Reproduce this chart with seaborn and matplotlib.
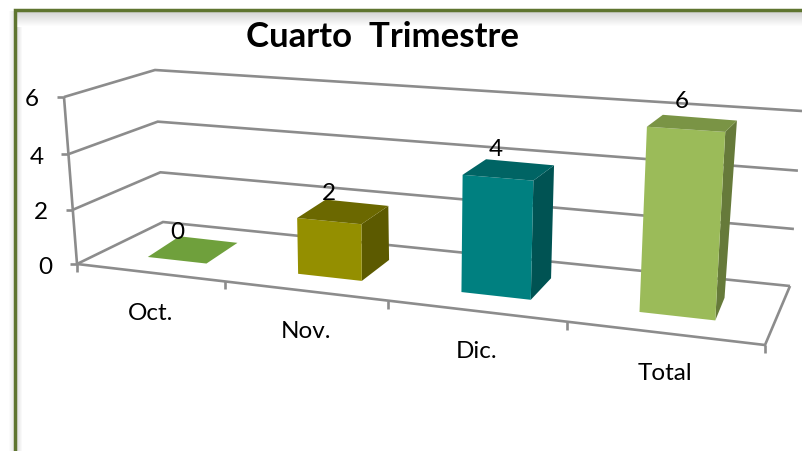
import numpy as np
import matplotlib
matplotlib.use("Agg")
import matplotlib.pyplot as plt
import matplotlib.transforms as mtransforms
from matplotlib.patches import Polygon
import seaborn as sns

# ---- data ----
title = "Cuarto  Trimestre"
categories = ["Oct.", "Nov.", "Dic.", "Total"]
values = [0, 2, 4, 6]
y_ticks = [0, 2, 4, 6]
front_colors = ["#6FA03C", "#948F00", "#008080", "#9BBB59"]
top_colors = ["#6FA03C", "#6B6800", "#006464", "#7A9445"]
side_colors = ["#5A8030", "#5C5A00", "#005353", "#667A3A"]

# ---- perspective calibration: plane corners (category, value) -> pixel ----
U0, U1, V0, V1 = -0.5, 3.5, 0.0, 6.0


def homography(bl, br, tl, tr):
    src = [(U0, V0), (U1, V0), (U0, V1), (U1, V1)]
    dst = [bl, br, tl, tr]
    A, b = [], []
    for (u, v), (x, y) in zip(src, dst):
        A.append([u, v, 1, 0, 0, 0, -u * x, -v * x]); b.append(x)
        A.append([0, 0, 0, u, v, 1, -u * y, -v * y]); b.append(y)
    h = np.linalg.solve(np.array(A, float), np.array(b, float))
    return np.append(h, 1).reshape(3, 3)


class Projection(mtransforms.Transform):
    input_dims = 2
    output_dims = 2

    def __init__(self, H):
        super().__init__()
        self.H = H

    def transform_non_affine(self, pts):
        pts = np.atleast_2d(pts)
        q = np.c_[pts, np.ones(len(pts))] @ self.H.T
        return q[:, :2] / q[:, 2:]


wall = Projection(homography((163, 223), (790, 287), (155, 71), (802, 112)))
axis_plane = Projection(homography((77, 265), (765, 346), (64, 98), (783, 146)))
bar_front = Projection(homography((105, 253.2), (774, 328), (97, 91), (786, 137)))
bar_back = Projection(homography((137, 232.5), (779, 305), (125, 74), (794, 126)))


def P(proj, u, v):
    return proj.transform_non_affine([[u, v]])[0]


# ---- figure ----
sns.set_style("white")
plt.rcParams["font.family"] = ["Lato", "DejaVu Sans"]
fig = plt.figure(figsize=(8.02, 4.52), dpi=100, facecolor="white")
ax = fig.add_axes([0, 0, 1, 1])

sns.barplot(
    x=categories, y=values, hue=categories, palette=front_colors, order=categories,
    hue_order=categories, width=0.4, saturation=1, errorbar=None, legend=False,
    linewidth=0, zorder=4, transform=Projection(bar_front.H) + ax.transData, ax=ax,
)
ax.set_xlim(0, 802)
ax.set_ylim(452, 0)
ax.set_axis_off()

# frame shadow
top_grad = np.linspace(0.82, 1, 16)[:, None]
ax.imshow(top_grad, extent=(17, 802, 28, 12), cmap="gray", vmin=0, vmax=1, aspect="auto", zorder=0)
left_grad = np.linspace(0.88, 1, 6)[None, :]
ax.imshow(left_grad, extent=(17, 23, 452, 28), cmap="gray", vmin=0, vmax=1, aspect="auto", zorder=0)
out_grad = np.linspace(1, 0.92, 6)[None, :]
ax.imshow(out_grad, extent=(8, 14, 452, 12), cmap="gray", vmin=0, vmax=1, aspect="auto", zorder=0)
ax.set_xlim(0, 802)
ax.set_ylim(452, 0)
ax.plot([15.2, 15.2, 802], [452, 11.2, 11.2], color="#5F7530", lw=2.5, solid_joinstyle="miter", zorder=1)

# walls, floor, ticks
GRID = "#8C8C8C"
line = dict(color=GRID, lw=1.9, zorder=2, solid_capstyle="butt", solid_joinstyle="miter")
for t in y_ticks:
    a, b, c = P(axis_plane, U0, t), P(wall, U0, t), P(wall, U1, t)
    ax.plot([a[0], b[0], c[0]], [a[1], b[1], c[1]], **line)
    ax.plot([a[0] - 7, a[0]], [a[1], a[1]], **line)
    ax.text(a[0] - 32, a[1] + 2, str(t), ha="center", va="center", fontsize=17.5, color="black", zorder=6)

a, b = P(axis_plane, U0, V0), P(axis_plane, U0, V1)
ax.plot([a[0], b[0]], [a[1], b[1]], **line)
a, b, c = P(axis_plane, U0, 0), P(axis_plane, U1, 0), P(wall, U1, 0)
ax.plot([a[0], b[0], c[0]], [a[1], b[1], c[1]], **line)
for edge in np.arange(U0, U1 + 0.5):
    e = P(axis_plane, edge, 0)
    ax.plot([e[0], e[0]], [e[1], e[1] + 8], **line)

# 3-D faces of the bars, built from the seaborn bars themselves
bars = sorted(ax.patches, key=lambda r: r.get_x())
for i, r in enumerate(bars):
    x0, x1, h = r.get_x(), r.get_x() + r.get_width(), r.get_height()
    top = [P(bar_front, x0, h), P(bar_front, x1, h), P(bar_back, x1, h), P(bar_back, x0, h)]
    side = [P(bar_front, x1, 0), P(bar_front, x1, h), P(bar_back, x1, h), P(bar_back, x1, 0)]
    ax.add_patch(Polygon(side, closed=True, fc=side_colors[i], ec="none", zorder=3))
    ax.add_patch(Polygon(top, closed=True, fc=top_colors[i], ec="none", zorder=5 if h else 3))
    c = P(bar_front, i, h)
    ax.text(c[0] - 2 * max(i - 1, 0), c[1] - 29, str(values[i]), ha="center", va="center",
            fontsize=17.5, color="black", zorder=6)
    f = P(axis_plane, i, 0)
    ax.text(f[0] + 1, f[1] + 39.5, categories[i], ha="center", va="center",
            fontsize=17.5, color="black", zorder=6)

ax.text(383, 37, title, ha="center", va="center", fontsize=25, fontweight="bold", color="black", zorder=6)

fig.savefig("out.png", dpi=100, facecolor="white")
